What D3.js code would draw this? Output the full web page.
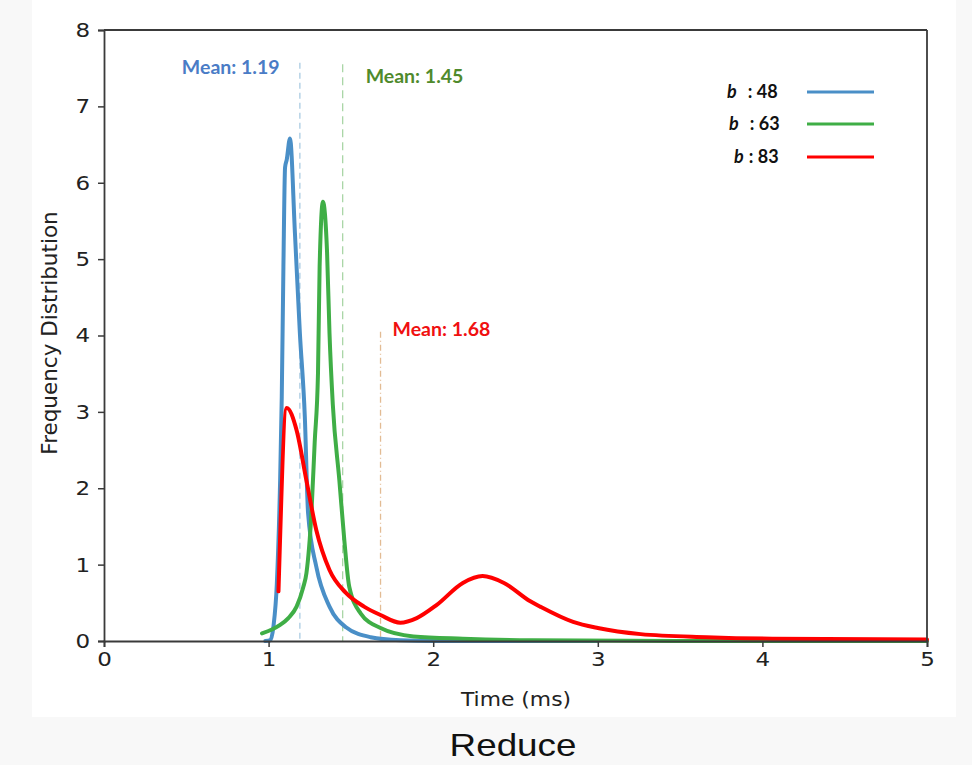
<!DOCTYPE html>
<html>
<head>
<meta charset="utf-8">
<script src="https://cdn.jsdelivr.net/npm/d3@7/dist/d3.min.js"></script>
<style>
  body { margin: 0; background: #f8f8f8; }
  svg { display: block; }
</style>
</head>
<body>
<svg id="chart" width="972" height="765"></svg>
<script>
// curves: [time (ms), frequency]
var b48 = [[0.98,0],[1.01,0.01],[1.03,0.2],[1.05,0.75],[1.07,2.1],[1.08,3.2],[1.09,4.9],[1.10,6.2],[1.11,6.3],
  [1.13,6.58],[1.16,5.34],[1.19,4.03],[1.22,2.94],[1.24,1.67],[1.29,0.97],[1.37,0.45],[1.47,0.18],[1.62,0.05],
  [1.8,0.01],[2.0,0],[3.0,0]];
var b63 = [[0.96,0.1],[1.02,0.15],[1.07,0.21],[1.12,0.3],[1.17,0.45],[1.21,0.7],[1.23,0.89],[1.26,1.67],[1.28,2.6],
  [1.30,3.5],[1.31,4.9],[1.33,5.75],[1.355,5.1],[1.37,4.03],[1.39,3.1],[1.43,2.1],[1.46,1.32],[1.49,0.71],[1.56,0.36],
  [1.68,0.17],[1.88,0.06],[2.18,0.03],[2.6,0.01],[3.5,0],[5,0]];
var b83 = [[1.06,0.65],[1.11,3.05],[1.17,2.76],[1.23,2.1],[1.29,1.45],[1.37,0.93],[1.47,0.63],[1.58,0.45],[1.68,0.34],
  [1.80,0.24],[1.90,0.30],[2.02,0.47],[2.18,0.76],[2.30,0.85],[2.43,0.76],[2.59,0.52],[2.65,0.45],[2.85,0.25],
  [3.0,0.17],[3.26,0.09],[3.66,0.05],[4.06,0.03],[5,0.02]];

var seriesNames = ["48", "63", "83"];
var seriesData = [b48, b63, b83];
var means = [1.19, 1.45, 1.68];
var meanTops = [7.57, 7.55, 4.05];
var xTicks = [0, 1, 2, 3, 4, 5];
var yTicks = [0, 1, 2, 3, 4, 5, 6, 7, 8];

var colors = ["#4a8fc7", "#3fae46", "#ff0000"];
var meanLineColors = ["#a9cbe2", "#a9d6a6", "#e2bb93"];
var meanLineDash = ["6,4", "8,5", "6,3,1,3"];
var labelColors = ["#4a7cc6", "#4f8a2c", "#f01010"];

var svg = d3.select("#chart");
var stretch = 1.15; // picture is a bit wide, text with it

svg.append("rect").attr("x", 32).attr("y", 0).attr("width", 924).attr("height", 717).attr("fill", "#fff");

var margin = { left: 104, top: 30, right: 927, bottom: 641 };
var x = d3.scaleLinear().domain([0, 5]).range([margin.left, margin.right]);
var y = d3.scaleLinear().domain([0, 8]).range([margin.bottom, margin.top]);

// mean markers
means.forEach(function(m, i) {
  svg.append("line")
    .attr("x1", x(m)).attr("x2", x(m))
    .attr("y1", y(meanTops[i])).attr("y2", y(0))
    .attr("stroke", meanLineColors[i])
    .attr("stroke-width", 1.3)
    .attr("stroke-dasharray", meanLineDash[i]);
});

var line = d3.line()
  .x(function(d) { return x(d[0]); })
  .y(function(d) { return y(d[1]); })
  .curve(d3.curveMonotoneX);

seriesData.forEach(function(s, i) {
  svg.append("path")
    .datum(s)
    .attr("d", line)
    .attr("fill", "none")
    .attr("stroke", colors[i])
    .attr("stroke-width", 4)
    .attr("stroke-linejoin", "round")
    .attr("stroke-linecap", "round");
});

// frame
svg.append("line").attr("x1", x(0)).attr("x2", x(5)).attr("y1", y(8)).attr("y2", y(8))
  .attr("stroke", "#3a3a3a").attr("stroke-width", 1.8);
svg.append("line").attr("x1", x(5)).attr("x2", x(5)).attr("y1", y(8)).attr("y2", y(0))
  .attr("stroke", "#3a3a3a").attr("stroke-width", 1.8);

var xAxis = svg.append("g")
  .attr("transform", "translate(0," + y(0) + ")")
  .call(d3.axisBottom(x).tickValues(xTicks).tickFormat(d3.format("d")).tickSize(6).tickPadding(5));
var yAxis = svg.append("g")
  .attr("transform", "translate(" + x(0) + ",0)")
  .call(d3.axisLeft(y).tickValues(yTicks).tickFormat(d3.format("d")).tickSize(6).tickPadding(6));

[xAxis, yAxis].forEach(function(ax) {
  ax.select(".domain").attr("stroke", "#3a3a3a").attr("stroke-width", 1.8);
  ax.selectAll(".tick line").attr("stroke", "#3a3a3a").attr("stroke-width", 1.5);
  ax.selectAll(".tick text")
    .attr("fill", "#222")
    .style("font-family", "DejaVu Sans")
    .style("font-size", "20px")
    .attr("transform", "scale(" + stretch + ",1)");
});

svg.append("text")
  .attr("transform", "translate(" + 516 + ",706) scale(" + stretch + ",1)")
  .attr("text-anchor", "middle")
  .style("font-family", "DejaVu Sans")
  .style("font-size", "19px")
  .attr("fill", "#222")
  .text("Time (ms)");

svg.append("text")
  .attr("transform", "translate(57,333) rotate(-90)")
  .attr("text-anchor", "middle")
  .style("font-family", "DejaVu Sans")
  .style("font-size", "21.5px")
  .attr("fill", "#222")
  .text("Frequency Distribution");

svg.append("text")
  .attr("transform", "translate(513,756) scale(" + stretch + ",1)")
  .attr("text-anchor", "middle")
  .style("font-family", "Liberation Sans")
  .style("font-size", "32px")
  .attr("fill", "#111")
  .text("Reduce");

// mean labels
var meanLabelPos = [
  { dx: -118, v: 7.42 },
  { dx: 23, v: 7.3 },
  { dx: 12, v: 3.99 }
];
means.forEach(function(m, i) {
  svg.append("text")
    .attr("x", x(m) + meanLabelPos[i].dx)
    .attr("y", y(meanLabelPos[i].v))
    .style("font-family", "Lato")
    .style("font-weight", "bold")
    .style("font-size", "19.5px")
    .attr("fill", labelColors[i])
    .text("Mean: " + m.toFixed(2));
});

// legend
var legend = svg.append("g");
var legendRows = [92, 124, 157];
var legendBx = [727, 729, 734];
seriesNames.forEach(function(n, i) {
  var t = legend.append("text")
    .attr("x", legendBx[i])
    .attr("y", legendRows[i] + 6)
    .style("font-family", "Lato")
    .style("font-weight", "bold")
    .style("font-size", "18px")
    .attr("fill", "#111");
  t.append("tspan").style("font-style", "italic").text("b");
  t.append("tspan").attr("dx", i == 2 ? 5 : 11).text(": " + n);
  legend.append("line")
    .attr("x1", 807).attr("x2", 874)
    .attr("y1", legendRows[i]).attr("y2", legendRows[i])
    .attr("stroke", colors[i])
    .attr("stroke-width", 3);
});
</script>
</body>
</html>
